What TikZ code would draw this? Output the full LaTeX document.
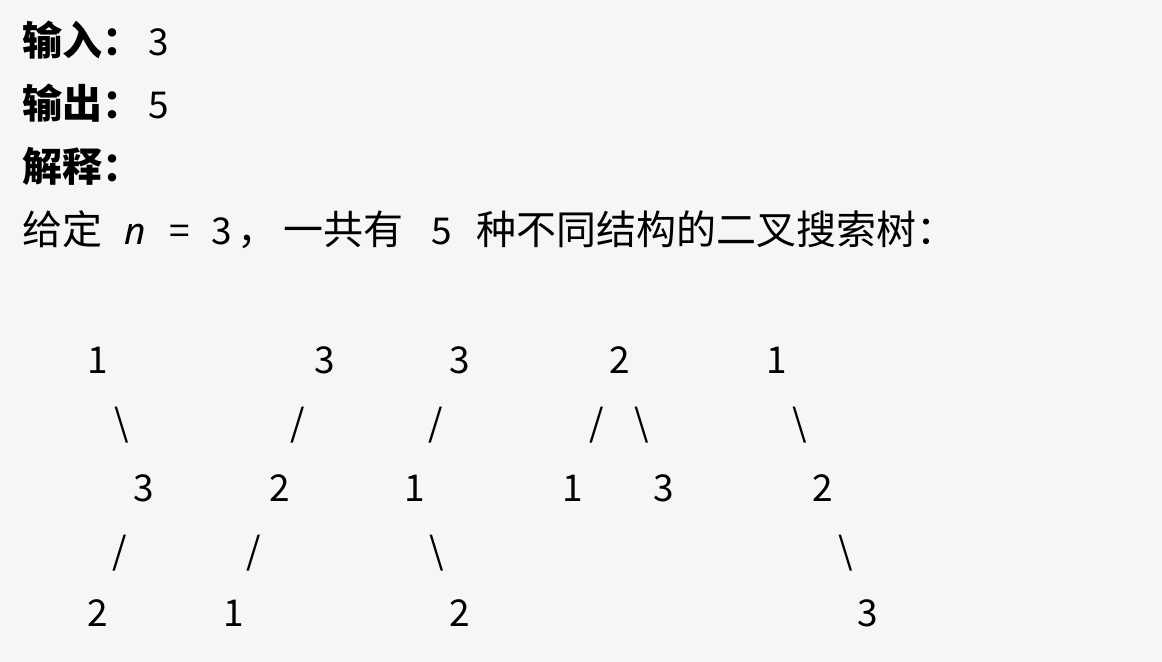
\documentclass[tikz,border=0pt]{standalone}
\usepackage{fontspec}
\setmainfont{Noto Sans CJK SC}
\newfontfamily\latinsf{Noto Sans}
\usepackage{tikz}
\usetikzlibrary{positioning}
\definecolor{pagebg}{HTML}{F6F6F6}
\tikzset{
  line/.style  = {anchor=base west,inner sep=0pt,font=\fontsize{20}{24}\selectfont},
  key/.style   = {line,font=\fontsize{20}{24}\selectfont\bfseries},
  val/.style   = {anchor=base west,inner sep=0pt,font=\fontsize{18.5}{22}\selectfont},
  num/.style   = {inner sep=0pt,font=\fontsize{18.5}{22}\selectfont},
  edge/.style  = {inner sep=0pt,font=\fontsize{18.5}{22}\selectfont},
}
\newcommand{\lat}[1]{{\fontsize{18.5}{22}\selectfont #1}}
\newcommand{\vn}{{\latinsf\itshape\fontsize{18.5}{22}\selectfont n}}

\begin{document}
\begin{tikzpicture}[x=0.5pt,y=-0.5pt]
  \fill[pagebg] (0,0) rectangle (1162,662);
  \useasboundingbox (0,0) rectangle (1162,662);
  % header lines
  \node[key] (kin)  at (22,56)  {输入：};
  \node[val] (vin)  at (148,56) {3};
  \node[key] (kout) at (22,119) {输出：};
  \node[val] (vout) at (148,119){5};
  \node[key] (kexp) at (22,182) {解释：};
  \node[line] (txt) at (22,245)
    {给定\hspace{11pt}\vn\hspace{12pt}\lat{=}\hspace{10.5pt}\lat{3}\hspace{3pt}，\hspace{3pt}一共有\hspace{14pt}\lat{5}\hspace{12pt}种不同结构的二叉搜索树：};
  % tree 1
  \node[num]  (a1) at (98,360)  {1};
  \node[edge] (a2) at (122,425) {\textbackslash};
  \node[num]  (a3) at (144,488) {3};
  \node[edge] (a4) at (120,553) {/};
  \node[num]  (a5) at (98,613)  {2};
  % tree 2
  \node[num]  (b1) at (325,360) {3};
  \node[edge] (b2) at (298,425) {/};
  \node[num]  (b3) at (280,488) {2};
  \node[edge] (b4) at (254,553) {/};
  \node[num]  (b5) at (234,613) {1};
  % tree 3
  \node[num]  (c1) at (460,360) {3};
  \node[edge] (c2) at (436,425) {/};
  \node[num]  (c3) at (415,488) {1};
  \node[edge] (c4) at (437,553) {\textbackslash};
  \node[num]  (c5) at (460,613) {2};
  % tree 4
  \node[num]  (d1) at (620,360) {2};
  \node[edge] (d2) at (597,425) {/};
  \node[edge] (d3) at (642,425) {\textbackslash};
  \node[num]  (d4) at (573,488) {1};
  \node[num]  (d5) at (664,488) {3};
  % tree 5
  \node[num]  (e1) at (777,360) {1};
  \node[edge] (e2) at (800,425) {\textbackslash};
  \node[num]  (e3) at (823,488) {2};
  \node[edge] (e4) at (846,553) {\textbackslash};
  \node[num]  (e5) at (868,613) {3};
\end{tikzpicture}
\end{document}
